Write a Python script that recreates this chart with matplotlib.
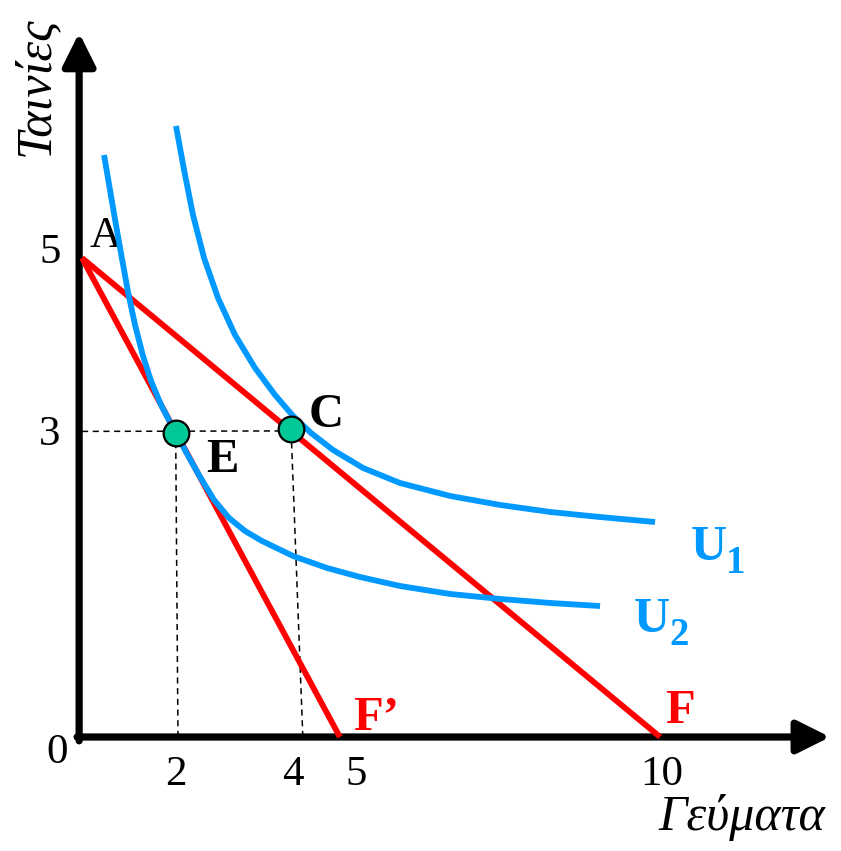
import matplotlib
matplotlib.use("Agg")
import matplotlib.pyplot as plt
from matplotlib.patches import ArrowStyle

plt.rcParams["font.family"] = ["Liberation Serif", "DejaVu Serif"]

RED = "#ff0000"
BLUE = "#0099ff"
GREEN = "#00c896"

# budget lines: A on the y axis, F and F' on the x axis
budget_a = (0.0, 5.0)
budget_f = (10.0, 0.0)
budget_f2 = (4.46, 0.0)

# indifference curves
u1_x = [1.626, 1.765, 1.920, 2.111, 2.353, 2.647, 2.993, 3.339, 3.651, 3.962,
        4.343, 4.862, 5.502, 6.367, 7.232, 8.097, 8.962, 9.913]
u1_y = [6.378, 5.919, 5.449, 5.000, 4.582, 4.196, 3.852, 3.570, 3.351, 3.173,
        2.996, 2.808, 2.651, 2.516, 2.422, 2.349, 2.296, 2.244]
u2_x = [0.381, 0.484, 0.588, 0.692, 0.796, 0.917, 1.055, 1.194, 1.367, 1.557, 1.799, 2.042,
        2.284, 2.543, 2.820, 3.114, 3.651, 4.239, 4.810, 5.502, 6.367, 7.232, 8.097, 8.962]
u2_y = [6.075, 5.710, 5.344, 4.990, 4.645, 4.301, 3.977, 3.716, 3.466, 3.246, 2.975, 2.714,
        2.474, 2.286, 2.150, 2.046, 1.889, 1.764, 1.670, 1.576, 1.493, 1.441, 1.399, 1.367]

# optimum points E and C, and where their guide lines meet the x axis
opt_x = [1.62, 3.616]
opt_y = [3.176, 3.215]
opt_foot_x = [1.66, 3.82]
guide_left_y = 3.19

x_tick_pos = [1.626, 3.65, 4.74, 10.03]
x_tick_labels = ["2", "4", "5", "10"]
y_tick_pos = [4.948, 3.05]
y_tick_labels = ["5", "3"]

fig = plt.figure(figsize=(8.41, 8.51), dpi=100)
ax = fig.add_axes([0, 0, 1, 1])
ax.set_xlim(-1.419, 13.13)
ax.set_ylim(-1.19, 7.693)
ax.axis("off")

# axes with arrow heads
head = ArrowStyle("-|>", head_length=1.0, head_width=0.5)
ax.annotate("", xy=(-0.05, 7.35), xytext=(-0.05, -0.04),
            arrowprops=dict(arrowstyle=head, lw=5.2, color="black", mutation_scale=20,
                            shrinkA=0, shrinkB=0))
ax.annotate("", xy=(12.94, 0.0), xytext=(-0.085, 0.0),
            arrowprops=dict(arrowstyle=head, lw=5.2, color="black", mutation_scale=20,
                            shrinkA=0, shrinkB=0))

# dashed guides
for x, y, fx in zip(opt_x, opt_y, opt_foot_x):
    ax.plot([fx, x], [0, y], ls=(0, (4, 3)), color="black", lw=1.1, zorder=2)
ax.plot([0, opt_x[1]], [guide_left_y, opt_y[1] - 0.02], ls=(0, (4, 3)), color="black",
        lw=1.1, zorder=2)

# budget lines
ax.plot([budget_a[0], budget_f[0]], [budget_a[1], budget_f[1]], color=RED, lw=4.2,
        solid_capstyle="butt", zorder=3)
ax.plot([budget_a[0], budget_f2[0]], [budget_a[1], budget_f2[1]], color=RED, lw=4.2,
        solid_capstyle="butt", zorder=3)

# indifference curves
ax.plot(u1_x, u1_y, color=BLUE, lw=4.2, solid_capstyle="butt", solid_joinstyle="round", zorder=4)
ax.plot(u2_x, u2_y, color=BLUE, lw=4.2, solid_capstyle="butt", solid_joinstyle="round", zorder=4)

ax.plot(opt_x, opt_y, "o", ms=18.5, color=GREEN, mec="black", mew=1.6, zorder=5)

# tick labels
for p, lab in zip(x_tick_pos, x_tick_labels):
    ax.text(p, -0.50, lab, fontsize=31, ha="center", va="baseline")
for p, lab in zip(y_tick_pos, y_tick_labels):
    ax.text(-0.56, p, lab, fontsize=31, ha="center", va="baseline")
ax.text(-0.424, -0.27, "0", fontsize=31, ha="center", va="baseline")

# point labels
ax.text(0.415, 5.115, "A", fontsize=32, ha="center", va="baseline")
ax.text(4.22, 3.236, "C", fontsize=35, fontweight="bold", ha="center", va="baseline")
ax.text(2.43, 2.766, "E", fontsize=35, fontweight="bold", ha="center", va="baseline")
ax.text(4.69, 0.073, "F\u2019", fontsize=35, fontweight="bold", color=RED, ha="left",
        va="baseline")
ax.text(10.09, 0.146, "F", fontsize=35, fontweight="bold", color=RED, ha="left", va="baseline")

ax.text(10.85, 1.852, "U", fontsize=36, fontweight="bold", color=BLUE, ha="center", va="baseline")
ax.text(11.30, 1.712, "1", fontsize=28, fontweight="bold", color=BLUE, ha="center", va="baseline")
ax.text(9.86, 1.096, "U", fontsize=36, fontweight="bold", color=BLUE, ha="center", va="baseline")
ax.text(10.33, 0.960, "2", fontsize=28, fontweight="bold", color=BLUE, ha="center", va="baseline")

# axis titles
ax.text(-0.796, 6.795, "Ταινίες", fontsize=36, style="italic", rotation=90,
        ha="center", va="center")
ax.text(9.965, -0.971, "Γεύματα", fontsize=36, style="italic", ha="left", va="baseline")

fig.savefig("out.png", dpi=100)
